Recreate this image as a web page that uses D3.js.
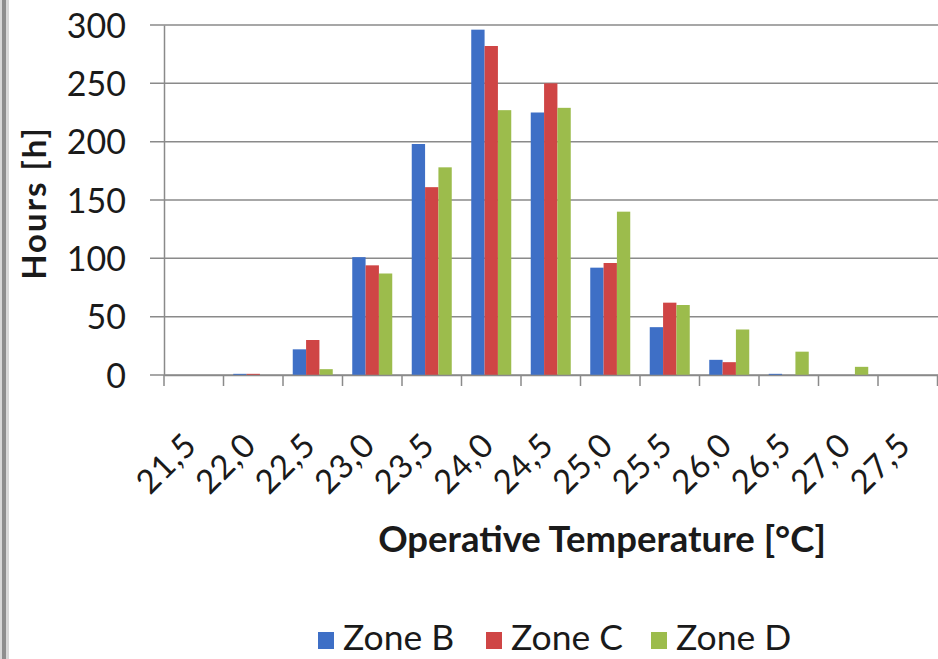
<!DOCTYPE html>
<html><head><meta charset="utf-8">
<script src="https://cdnjs.cloudflare.com/ajax/libs/d3/7.8.5/d3.min.js"></script>
<style>
html,body{margin:0;padding:0;background:#fff;}
svg{display:block;}
text{font-family:Lato, "Open Sans", sans-serif;fill:#1a1a1a;}
</style></head>
<body>
<svg id="c" width="938" height="659"></svg>
<script>
const categories = ["21,5","22,0","22,5","23,0","23,5","24,0","24,5","25,0","25,5","26,0","26,5","27,0","27,5"];
const seriesNames = ["Zone B","Zone C","Zone D"];
const zoneB = [0, 1, 22, 101, 198, 296, 225, 92, 41, 13, 1, 0, 0];
const zoneC = [0, 1, 30, 94, 161, 282, 250, 96, 62, 11, 0, 0, 0];
const zoneD = [0, 0, 5, 87, 178, 227, 229, 140, 60, 39, 20, 7, 0];
const yTicks = [0, 50, 100, 150, 200, 250, 300];
const colors = ["#3e6fc6", "#cf4545", "#9cbc4c"];
const yTitle = "Hours [h]";
const xTitle = "Operative Temperature [°C]";

const svg = d3.select("#c");
// left border strip
svg.append("rect").attr("x",0).attr("y",0).attr("width",9).attr("height",659).attr("fill","#d8d8d8");
svg.append("rect").attr("x",2).attr("y",0).attr("width",4).attr("height",659).attr("fill","#8e8e8e");

const x0 = 164, x1 = 937.5, yTop = 25, yBot = 375;
const x = d3.scaleBand().domain(categories).range([x0, x1]).paddingInner(0).paddingOuter(0);
const y = d3.scaleLinear().domain([0, 300]).range([yBot, yTop]);
const groupW = 40;
const xs = d3.scaleBand().domain(seriesNames).range([0, groupW]).padding(0);

// gridlines
svg.append("g").selectAll("line").data(yTicks).join("line")
  .attr("x1", 150).attr("x2", 938)
  .attr("y1", d => y(d)).attr("y2", d => y(d))
  .attr("stroke", "#8a8a8a").attr("stroke-width", 1.5);

// y axis
const ya = svg.append("g").attr("transform", `translate(${x0},0)`)
  .call(d3.axisLeft(y).tickValues(yTicks).tickSize(0).tickPadding(38));
ya.select(".domain").attr("stroke", "#8a8a8a").attr("stroke-width", 1.5);
ya.selectAll("text").attr("font-size", 34).attr("fill", "#1a1a1a").attr("font-family","Lato").attr("dy","0.36em");

// bars
const data = [zoneB, zoneC, zoneD];
const g = svg.append("g");
data.forEach((vals, si) => {
  g.selectAll(null).data(vals).join("rect")
    .attr("x", (d, i) => x(categories[i]) + (x.bandwidth() - groupW) / 2 + xs(seriesNames[si]))
    .attr("width", xs.bandwidth())
    .attr("y", d => y(d))
    .attr("height", d => yBot - y(d))
    .attr("fill", colors[si]);
});

// x axis
const xa = svg.append("g").attr("transform", `translate(0,${yBot})`)
  .call(d3.axisBottom(x).tickSize(0).tickFormat(""));
xa.select(".domain").attr("stroke", "#8a8a8a").attr("stroke-width", 1.5);
// boundary ticks
const bounds = categories.map(c => x(c)).concat([x1]);
svg.append("g").selectAll("line").data(bounds).join("line")
  .attr("x1", d => d).attr("x2", d => d).attr("y1", yBot).attr("y2", yBot + 11)
  .attr("stroke", "#8a8a8a").attr("stroke-width", 1.5);

// x tick labels rotated
svg.append("g").selectAll("text").data(categories).join("text")
  .attr("transform", d => `translate(${x(d) + x.bandwidth()/2 + 5},${yBot + 72}) rotate(-45)`)
  .attr("text-anchor", "end")
  .attr("font-size", 33)
  .attr("letter-spacing", 1)
  .text(d => d);

// y title
svg.append("text")
  .attr("transform", `translate(46,203) rotate(-90)`)
  .attr("text-anchor", "middle")
  .attr("font-size", 33).attr("font-weight", "bold")
  .attr("letter-spacing", 2)
  .text(yTitle);

// x title
svg.append("text")
  .attr("x", 602).attr("y", 552)
  .attr("text-anchor", "middle")
  .attr("font-size", 36.5).attr("font-weight", "bold")
  .text(xTitle);

// legend
const legX = [318, 486, 651];
const lg = svg.append("g");
seriesNames.forEach((n, i) => {
  lg.append("rect").attr("x", legX[i]).attr("y", 632).attr("width", 16).attr("height", 17).attr("fill", colors[i]);
  lg.append("text").attr("x", legX[i] + 25).attr("y", 650).attr("font-size", 35.5).text(n);
});
</script>
</body></html>
